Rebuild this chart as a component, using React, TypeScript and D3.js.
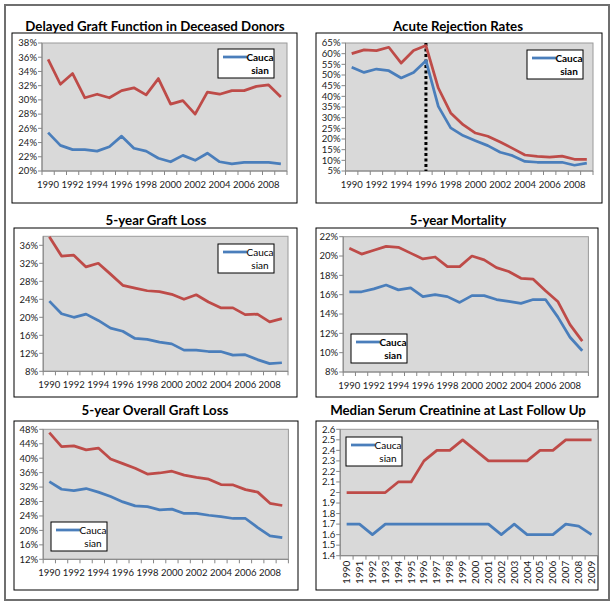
import React from 'react';
import * as d3 from 'd3';

// categories
const years = [1990, 1991, 1992, 1993, 1994, 1995, 1996, 1997, 1998, 1999,
  2000, 2001, 2002, 2003, 2004, 2005, 2006, 2007, 2008, 2009];

// delayed graft function (%), blue = Caucasian, red = other group
const dgfCaucasian = [25.4, 23.6, 23.0, 23.0, 22.8, 23.4, 24.9, 23.2, 22.8, 21.8,
  21.3, 22.2, 21.5, 22.5, 21.3, 21.0, 21.2, 21.2, 21.2, 21.0];
const dgfOther = [35.7, 32.2, 33.7, 30.3, 30.8, 30.3, 31.3, 31.7, 30.7, 33.0,
  29.4, 29.9, 28.0, 31.1, 30.8, 31.3, 31.3, 31.9, 32.1, 30.4];
const dgfTicks = [20, 22, 24, 26, 28, 30, 32, 34, 36, 38];

// acute rejection (%)
const arCaucasian = [53.6, 51.2, 52.8, 52.0, 48.6, 51.2, 56.7, 35.3, 25.2, 21.6,
  19.2, 16.9, 13.8, 12.2, 9.5, 9.1, 9.0, 9.1, 7.7, 8.7];
const arOther = [60.0, 61.8, 61.4, 63.0, 55.6, 61.5, 63.8, 43.9, 32.2, 26.7,
  22.8, 21.3, 18.6, 15.6, 12.5, 11.9, 11.5, 12.0, 10.5, 10.5];
const arTicks = [5, 10, 15, 20, 25, 30, 35, 40, 45, 50, 55, 60, 65];
const arMarkerYear = 1996;

// 5-year graft loss (%)
const glCaucasian = [23.6, 20.8, 20.0, 20.7, 19.3, 17.6, 16.9, 15.3, 15.1, 14.5,
  14.1, 12.7, 12.7, 12.4, 12.4, 11.6, 11.7, 10.6, 9.7, 9.9];
const glOther = [37.9, 33.6, 33.8, 31.2, 32.0, 29.6, 27.1, 26.5, 25.9, 25.7,
  25.1, 24.0, 25.0, 23.4, 22.1, 22.1, 20.6, 20.7, 19.0, 19.7];
const glTicks = [8, 12, 16, 20, 24, 28, 32, 36];

// 5-year mortality (%)
const mortCaucasian = [16.3, 16.3, 16.6, 17.0, 16.5, 16.7, 15.8, 16.0, 15.8, 15.2,
  15.9, 15.9, 15.5, 15.3, 15.1, 15.5, 15.5, 13.7, 11.6, 10.2];
const mortOther = [20.8, 20.2, 20.6, 21.0, 20.9, 20.3, 19.7, 19.9, 18.9, 18.9,
  20.0, 19.6, 18.8, 18.4, 17.7, 17.6, 16.4, 15.3, 12.9, 11.2];
const mortTicks = [8, 10, 12, 14, 16, 18, 20, 22];

// 5-year overall graft loss (%)
const oglCaucasian = [33.5, 31.4, 31.0, 31.6, 30.6, 29.4, 27.9, 26.8, 26.6, 25.7,
  25.9, 24.7, 24.7, 24.2, 23.8, 23.3, 23.3, 20.8, 18.5, 18.0];
const oglOther = [47.1, 43.2, 43.4, 42.3, 42.8, 39.8, 38.5, 37.2, 35.6, 35.9,
  36.4, 35.3, 34.7, 34.2, 32.7, 32.6, 31.3, 30.6, 27.5, 26.9];
const oglTicks = [12, 16, 20, 24, 28, 32, 36, 40, 44, 48];

// median serum creatinine
const scrCaucasian = [1.7, 1.7, 1.6, 1.7, 1.7, 1.7, 1.7, 1.7, 1.7, 1.7,
  1.7, 1.7, 1.6, 1.7, 1.6, 1.6, 1.6, 1.7, 1.68, 1.6];
const scrOther = [2.0, 2.0, 2.0, 2.0, 2.1, 2.1, 2.3, 2.4, 2.4, 2.5,
  2.4, 2.3, 2.3, 2.3, 2.3, 2.4, 2.4, 2.5, 2.5, 2.5];
const scrTicks = [1.4, 1.5, 1.6, 1.7, 1.8, 1.9, 2.0, 2.1, 2.2, 2.3, 2.4, 2.5, 2.6];

const BLUE = '#4a7ebb';
const RED = '#be4b48';
const FONT = 'Lato, "Open Sans", sans-serif';
const TICK_SIZE = 9.5;

const pct = (d) => `${d}%`;
const plain = (d) => d3.format('')(+d.toFixed(1));

const panels = [
  {
    title: 'Delayed Graft Function in Deceased Donors', tx: 155, ty: 31,
    box: [12, 33, 297, 203], plot: [42, 43, 287, 171],
    domain: [20, 38], ticks: dgfTicks, fmt: pct,
    blue: dgfCaucasian, red: dgfOther, legend: [218, 49], bold: true,
  },
  {
    title: 'Acute Rejection Rates', tx: 458, ty: 31,
    box: [316, 33, 602, 203], plot: [345.5, 43, 593, 171],
    domain: [5, 65], ticks: arTicks, fmt: pct,
    blue: arCaucasian, red: arOther, legend: [527, 50], bold: true, marker: arMarkerYear,
  },
  {
    title: '5-year Graft Loss', tx: 156, ty: 225,
    box: [14, 228, 297, 397], plot: [43.2, 236.3, 288, 371.3],
    domain: [8, 38], ticks: glTicks, fmt: pct,
    blue: glCaucasian, red: glOther, legend: [218, 244], bold: false,
  },
  {
    title: '5-year Mortality', tx: 458, ty: 225,
    box: [316, 228, 598, 397], plot: [343.2, 236.7, 588.4, 372],
    domain: [8, 22], ticks: mortTicks, fmt: pct,
    blue: mortCaucasian, red: mortOther, legend: [351, 334], bold: true,
  },
  {
    title: '5-year Overall Graft Loss', tx: 155, ty: 415,
    box: [14, 421, 298, 590], plot: [43.2, 429.3, 288.4, 559.3],
    domain: [12, 48], ticks: oglTicks, fmt: pct,
    blue: oglCaucasian, red: oglOther, legend: [51, 522], bold: false,
  },
  {
    title: 'Median Serum Creatinine at Last Follow Up', tx: 458, ty: 415,
    box: [316, 421, 598, 590], plot: [340.2, 429.3, 598, 555.7],
    domain: [1.4, 2.6], ticks: scrTicks, fmt: plain,
    blue: scrCaucasian, red: scrOther, legend: [346, 437], bold: false, rotated: true,
  },
];

function Panel({ p }) {
  const [px0, py0, px1, py1] = p.plot;
  const [bx0, by0, bx1, by1] = p.box;
  const x = d3.scaleBand().domain(years.map(String)).range([px0, px1]);
  const y = d3.scaleLinear().domain(p.domain).range([py1, py0]);
  const cx = (yr) => x(String(yr)) + x.bandwidth() / 2;
  const line = d3.line().x((_, i) => cx(years[i])).y((d) => y(d));
  const bounds = years.map((yr) => x(String(yr))).concat([px1]);
  const [lx, ly] = p.legend;

  return (
    <g fontFamily={FONT}>
      <rect x={bx0} y={by0} width={bx1 - bx0} height={by1 - by0} fill="#fff" stroke="#000" strokeWidth={1} />
      <text x={p.tx} y={p.ty} textAnchor="middle" fontSize={13.3} fontWeight="bold" fill="#000">{p.title}</text>
      <rect x={px0} y={py0} width={px1 - px0} height={py1 - py0} fill="#d9d9d9" stroke="#9a9a9a" strokeWidth={1} />

      {/* y axis */}
      <line x1={px0} x2={px0} y1={py0} y2={py1} stroke="#868686" />
      {p.ticks.map((t) => (
        <g key={t}>
          <line x1={px0 - 4} x2={px0} y1={y(t)} y2={y(t)} stroke="#868686" />
          <text x={px0 - 5} y={y(t)} dy="0.35em" textAnchor="end" fontSize={TICK_SIZE} fill="#1a1a1a">{p.fmt(t)}</text>
        </g>
      ))}

      {/* x axis */}
      <line x1={px0} x2={px1} y1={py1} y2={py1} stroke="#868686" />
      {bounds.map((b, i) => (
        <line key={i} x1={b} x2={b} y1={py1} y2={py1 + 4} stroke="#868686" />
      ))}
      {years.map((yr, i) => {
        if (p.rotated) {
          return (
            <text key={yr} transform={`translate(${cx(yr)},${py1 + 5}) rotate(-90)`} dy="0.35em"
              textAnchor="end" fontSize={TICK_SIZE + 0.5} fill="#1a1a1a">{yr}</text>
          );
        }
        return i % 2 === 0 ? (
          <text key={yr} x={cx(yr)} y={py1 + 16.5} textAnchor="middle" fontSize={TICK_SIZE} fill="#1a1a1a">{yr}</text>
        ) : null;
      })}

      {p.marker && (
        <line x1={cx(p.marker)} x2={cx(p.marker)} y1={py0} y2={py1} stroke="#000" strokeWidth={3} strokeDasharray="3 2.5" />
      )}

      <path d={line(p.red)} fill="none" stroke={RED} strokeWidth={2.75} strokeLinejoin="round" />
      <path d={line(p.blue)} fill="none" stroke={BLUE} strokeWidth={2.75} strokeLinejoin="round" />

      {/* legend */}
      <rect x={lx} y={ly} width={56} height={29} fill="#fff" stroke="#000" strokeWidth={1} />
      <line x1={lx + 5} x2={lx + 29} y1={ly + 8} y2={ly + 8} stroke={BLUE} strokeWidth={2.75} />
      <text x={lx + 42} y={ly + 8} dy="0.35em" textAnchor="middle" fontSize={10}
        fontWeight={p.bold ? 'bold' : 'normal'} fill="#000">Cauca</text>
      <text x={lx + 42} y={ly + 21} dy="0.35em" textAnchor="middle" fontSize={10}
        fontWeight={p.bold ? 'bold' : 'normal'} fill="#000">sian</text>
    </g>
  );
}

export default function App() {
  return (
    <svg width={614} height={605} style={{ position: 'absolute', left: 0, top: 0, background: '#fff' }}>
      <rect x={0} y={0} width={614} height={605} fill="#fff" />
      <rect x={5} y={5} width={604} height={595} fill="none" stroke="#6f6f6f" strokeWidth={2} />
      {panels.map((p) => <Panel key={p.title} p={p} />)}
    </svg>
  );
}
